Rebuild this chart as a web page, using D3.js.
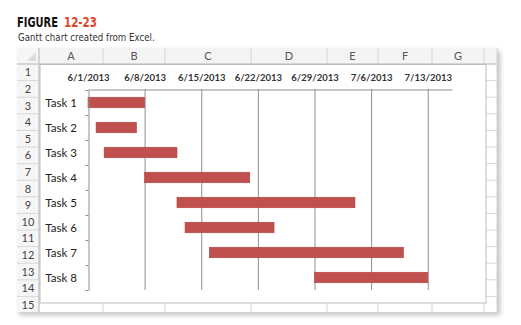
<!DOCTYPE html>
<html>
<head>
<meta charset="utf-8">
<script src="https://cdn.jsdelivr.net/npm/d3@7"></script>
<style>
  body { margin: 0; background: #fff; }
  svg { display: block; }
  .tick text { font-family: Lato, "Open Sans", sans-serif; }
</style>
</head>
<body>
<svg id="chart"></svg>
<script>
const width = 521;
const height = 325;

// data
const tasks = ["Task 1", "Task 2", "Task 3", "Task 4", "Task 5", "Task 6", "Task 7", "Task 8"];
const startDates = ["2013-06-01", "2013-06-02", "2013-06-03", "2013-06-08", "2013-06-12", "2013-06-13", "2013-06-16", "2013-06-29"];
const endDates = ["2013-06-08", "2013-06-07", "2013-06-12", "2013-06-21", "2013-07-04", "2013-06-24", "2013-07-10", "2013-07-13"];
const tickDates = ["2013-06-01", "2013-06-08", "2013-06-15", "2013-06-22", "2013-06-29", "2013-07-06", "2013-07-13"];
const axisRange = ["2013-06-01", "2013-07-16"];

// spreadsheet decoration
const colLetters = ["A", "B", "C", "D", "E", "F", "G", ""];
const colWidths = [64, 62, 86, 76, 51, 54, 52, 13];
const rowCount = 15;

const parse = d3.utcParse("%Y-%m-%d");
const fmt = d3.utcFormat("%-m/%-d/%Y");

const svg = d3.select('#chart')
    .attr('width', width)
    .attr('height', height);

// sheet geometry
const sheetX = 17, sheetTop = 48, headH = 16, rowH = 16.6, rowHeadW = 22;
const sheetBottom = 312;
const gridLeft = sheetX + rowHeadW;
const sheetRight = gridLeft + d3.sum(colWidths);

// drop shadow for the sheet
const defs = svg.append('defs');
const filt = defs.append('filter').attr('id', 'shadow')
    .attr('x', '-5%').attr('y', '-5%').attr('width', '115%').attr('height', '115%');
filt.append('feDropShadow')
    .attr('dx', 3).attr('dy', 3).attr('stdDeviation', 2.5)
    .attr('flood-color', '#000').attr('flood-opacity', 0.25);

svg.append('rect')
    .attr('x', sheetX).attr('y', sheetTop)
    .attr('width', sheetRight - sheetX).attr('height', sheetBottom - sheetTop)
    .attr('fill', '#fff')
    .attr('filter', 'url(#shadow)');

const sheet = svg.append('g');

// column header band
sheet.append('rect')
    .attr('x', sheetX).attr('y', sheetTop)
    .attr('width', sheetRight - sheetX).attr('height', headH)
    .attr('fill', '#f4f4f4');
// row header band
sheet.append('rect')
    .attr('x', sheetX).attr('y', sheetTop)
    .attr('width', rowHeadW).attr('height', sheetBottom - sheetTop)
    .attr('fill', '#f6f6f6');

// corner triangle
sheet.append('path')
    .attr('d', `M${gridLeft - 3},${sheetTop + 4} L${gridLeft - 3},${sheetTop + headH - 3} L${gridLeft - 12},${sheetTop + headH - 3} Z`)
    .attr('fill', '#dcdcdc');

// column edges
let cx = gridLeft;
const colEdges = [cx];
colWidths.forEach(w => { cx += w; colEdges.push(cx); });

sheet.selectAll('line.col')
    .data(colEdges)
    .join('line')
    .attr('x1', d => d).attr('x2', d => d)
    .attr('y1', sheetTop).attr('y2', sheetBottom)
    .attr('stroke', '#d4d4d4');

sheet.selectAll('text.colhead')
    .data(colLetters)
    .join('text')
    .attr('x', (d, i) => (colEdges[i] + colEdges[i + 1]) / 2)
    .attr('y', sheetTop + headH / 2 + 4)
    .attr('text-anchor', 'middle')
    .attr('font-family', 'Lato, "Open Sans", sans-serif')
    .attr('font-size', 11)
    .attr('fill', '#555')
    .text(d => d);

// row lines and numbers
const rows = d3.range(1, rowCount + 1);
const gridTop = sheetTop + headH;
sheet.selectAll('line.row')
    .data(d3.range(0, rowCount + 1))
    .join('line')
    .attr('x1', sheetX).attr('x2', sheetRight)
    .attr('y1', d => gridTop + d * rowH).attr('y2', d => gridTop + d * rowH)
    .attr('stroke', '#d8d8d8');

sheet.selectAll('text.rownum')
    .data(rows)
    .join('text')
    .attr('x', sheetX + rowHeadW / 2)
    .attr('y', d => gridTop + (d - 0.5) * rowH + 4)
    .attr('text-anchor', 'middle')
    .attr('font-family', 'Lato, "Open Sans", sans-serif')
    .attr('font-size', 11)
    .attr('fill', '#444')
    .text(d => d);

// header borders
sheet.append('line')
    .attr('x1', sheetX).attr('x2', sheetRight)
    .attr('y1', gridTop).attr('y2', gridTop)
    .attr('stroke', '#c4c4c4');
sheet.append('line')
    .attr('x1', gridLeft).attr('x2', gridLeft)
    .attr('y1', sheetTop).attr('y2', sheetBottom)
    .attr('stroke', '#c4c4c4');

// chart object sitting over the cells
const chartBox = { x: gridLeft + 1, y: gridTop + 0.5, w: 486 - gridLeft - 1, h: 303 - gridTop - 0.5 };
svg.append('rect')
    .attr('x', chartBox.x).attr('y', chartBox.y)
    .attr('width', chartBox.w).attr('height', chartBox.h)
    .attr('fill', '#fff')
    .attr('stroke', '#bdbdbd');

// scales
const x = d3.scaleUtc()
    .domain(axisRange.map(parse))
    .range([88, 452]);

const y = d3.scaleBand()
    .domain(tasks)
    .range([90, 290])
    .paddingInner(0.58)
    .paddingOuter(0.29);

const plot = svg.append('g');

// vertical gridlines
plot.selectAll('line.grid')
    .data(tickDates.slice(1))
    .join('line')
    .attr('x1', d => x(parse(d)) + 0.5).attr('x2', d => x(parse(d)) + 0.5)
    .attr('y1', 89).attr('y2', 290)
    .attr('stroke', '#8f8f8f');

// bars
plot.selectAll('rect.bar')
    .data(tasks)
    .join('rect')
    .attr('x', (d, i) => x(parse(startDates[i])))
    .attr('y', d => y(d))
    .attr('width', (d, i) => x(parse(endDates[i])) - x(parse(startDates[i])))
    .attr('height', y.bandwidth())
    .attr('fill', '#c0504d')
    .attr('stroke', '#b3423f')
    .attr('stroke-width', 0.6);

// top date axis
const xAxis = plot.append('g')
    .attr('transform', 'translate(0,89.5)')
    .call(d3.axisTop(x)
        .tickValues(tickDates.map(parse))
        .tickFormat(fmt)
        .tickSize(0)
        .tickSizeOuter(0)
        .tickPadding(9));
xAxis.select('.domain').attr('stroke', '#8f8f8f');
xAxis.selectAll('text')
    .attr('font-size', 9.5)
    .attr('font-weight', 'bold')
    .attr('fill', '#333');

// left category axis with ticks at band boundaries
const yEdges = d3.scaleLinear().domain([0, tasks.length]).range([90, 290]);
const yAxis = plot.append('g')
    .attr('transform', 'translate(88.5,0)')
    .call(d3.axisLeft(yEdges)
        .tickValues(d3.range(tasks.length + 1))
        .tickFormat('')
        .tickSize(3)
        .tickSizeOuter(0));
yAxis.select('.domain').attr('stroke', '#8f8f8f');
yAxis.selectAll('.tick line').attr('stroke', '#8f8f8f');

plot.selectAll('text.task')
    .data(tasks)
    .join('text')
    .attr('x', 77)
    .attr('y', d => y(d) + y.bandwidth() / 2 + 4)
    .attr('text-anchor', 'end')
    .attr('font-family', 'Lato, "Open Sans", sans-serif')
    .attr('font-size', 11.5)
    .attr('fill', '#222')
    .text(d => d);

// figure caption: condensed look by squeezing the text horizontally
function squeezed(str, px, py, targetW, opts) {
    const g = svg.append('g');
    const t = g.append('text')
        .attr('font-family', '"DejaVu Sans", sans-serif')
        .attr('font-weight', opts.weight || 'normal')
        .attr('font-size', opts.size)
        .attr('fill', opts.fill)
        .text(str);
    const w = t.node().getComputedTextLength();
    g.attr('transform', `translate(${px},${py}) scale(${targetW / w},1)`);
}

squeezed('FIGURE', 17, 27, 41, { weight: 'bold', size: 14, fill: '#111' });
squeezed('12-23', 64, 27, 33, { weight: 'bold', size: 14, fill: '#e0452b' });
squeezed('Gantt chart created from Excel.', 18, 41, 137, { size: 11, fill: '#333' });
</script>
</body>
</html>
